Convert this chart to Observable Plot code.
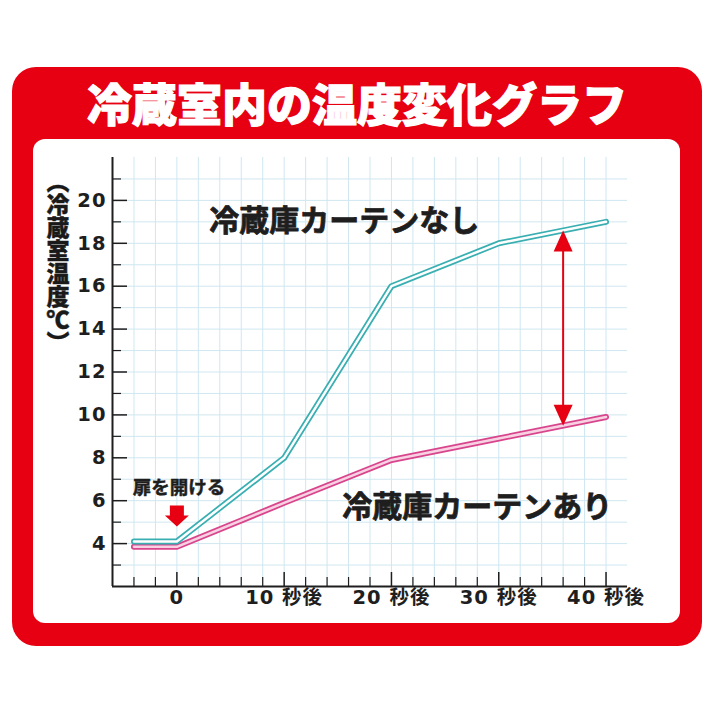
<!DOCTYPE html>
<html>
<head>
<meta charset="utf-8">
<script src="https://cdn.jsdelivr.net/npm/d3@7"></script>
<script src="https://cdn.jsdelivr.net/npm/@observablehq/plot@0.6"></script>
<style>
  body { margin: 0; background: #fff; }
  #wrap { position: relative; width: 713px; height: 713px; overflow: hidden; font-family: "Noto Sans CJK JP", sans-serif; }
  #frame { position: absolute; left: 12px; top: 67px; width: 690px; height: 579px; background: #e60012; border-radius: 24px; }
  #panel { position: absolute; left: 33px; top: 139px; width: 647px; height: 484px; background: #fff; border-radius: 12px; }
  #title { position: absolute; left: 12px; top: 67px; width: 690px; height: 72px; line-height: 72px; text-align: center; color: #fff; font-size: 45px; font-weight: 900; margin: 0; -webkit-text-stroke: 1.2px #fff; }
  #ylabel { position: absolute; left: 46px; top: 170px; writing-mode: vertical-rl; font-size: 23px; font-weight: 900; color: #1a1a1a; line-height: 1; -webkit-text-stroke: 0.4px #1a1a1a; }
</style>
</head>
<body>
<div id="wrap">
  <div id="frame"></div>
  <div id="panel"></div>
  <h1 id="title">冷蔵室内の温度変化グラフ</h1>
  <div id="ylabel">（冷蔵室温度℃）</div>
</div>
<script>
// ---- data ----
const timesNoCurtain = [-4, 0, 10, 20, 30, 40];
const tempsNoCurtain = [4.1, 4.1, 8.0, 16.0, 18.0, 19.0];
const timesCurtain = [-4, 0, 10, 20, 30, 40];
const tempsCurtain = [3.85, 3.85, 5.9, 7.9, 8.9, 9.9];

const seriesNames = ["冷蔵庫カーテンなし", "冷蔵庫カーテンあり"];
const seriesLabelX = [15.6, 28.0];
const seriesLabelY = [19.0, 5.7];

const xTickValues = [0, 10, 20, 30, 40];
const xTickLabels = ["0", "10 秒後", "20 秒後", "30 秒後", "40 秒後"];
const xMinorTicks = [-4, -2, 2, 4, 6, 8, 12, 14, 16, 18, 22, 24, 26, 28, 32, 34, 36, 38];
const yTickValues = [4, 6, 8, 10, 12, 14, 16, 18, 20];
const yMinorTicks = [3, 5, 7, 9, 11, 13, 15, 17, 19, 21];
const gridX = [-4, -2, 0, 2, 4, 6, 8, 10, 12, 14, 16, 18, 20, 22, 24, 26, 28, 30, 32, 34, 36, 38, 40];
const gridY = [3, 4, 5, 6, 7, 8, 9, 10, 11, 12, 13, 14, 15, 16, 17, 18, 19, 20, 21];

const gapArrow = [{time: 36, top: 18.6, bottom: 9.5}];
const doorOpen = [{time: 0, tip: 4.8, labelY: 6.6, text: "扉を開ける"}];

// ---- build tables ----
const noCurtain = timesNoCurtain.map((t, i) => ({time: t, temp: tempsNoCurtain[i]}));
const curtain = timesCurtain.map((t, i) => ({time: t, temp: tempsCurtain[i]}));
const labels = seriesNames.map((n, i) => ({name: n, x: seriesLabelX[i], y: seriesLabelY[i]}));

const RED = "#e60012", TEAL = "#3aafb2", PINK = "#d8458c", PINK_IN = "#f8d2e3", GRID = "#cfe7f0", INK = "#1e1e1e";
const W = 713, H = 713, mL = 112, mR = 86, mT = 157, mB = 127;
const pw = W - mL - mR, ph = H - mT - mB;

const headUp = {draw(c) { c.moveTo(0, 0); c.lineTo(9.5, 21); c.lineTo(-9.5, 21); c.closePath(); }};
const headDown = {draw(c) { c.moveTo(0, 0); c.lineTo(9.5, -21); c.lineTo(-9.5, -21); c.closePath(); }};
const blockArrow = {draw(c) {
  c.moveTo(0, 0); c.lineTo(12, -11); c.lineTo(7, -11); c.lineTo(7, -21);
  c.lineTo(-7, -21); c.lineTo(-7, -11); c.lineTo(-12, -11); c.closePath();
}};

const numFont = "DejaVu Sans, Noto Sans CJK JP, sans-serif";
const jpFont = "Noto Sans CJK JP, sans-serif";

const chart = Plot.plot({
  width: W, height: H,
  marginLeft: mL, marginRight: mR, marginTop: mT, marginBottom: mB,
  x: {domain: [-6, 42]},
  y: {domain: [2, 22]},
  style: {position: "absolute", left: "0px", top: "0px", background: "none", color: INK, overflow: "visible"},
  marks: [
    // grid
    Plot.ruleX(gridX, {stroke: GRID, strokeWidth: 1}),
    Plot.ruleY(gridY, {stroke: GRID, strokeWidth: 1}),
    // axis lines
    Plot.ruleX([-6], {stroke: INK, strokeWidth: 2}),
    Plot.ruleY([2], {stroke: INK, strokeWidth: 2}),
    // ticks (inside)
    Plot.ruleY(yTickValues, {stroke: INK, strokeWidth: 1.5, insetRight: pw - 15}),
    Plot.ruleY(yMinorTicks, {stroke: INK, strokeWidth: 1.2, insetRight: pw - 9}),
    Plot.ruleX(xTickValues, {stroke: INK, strokeWidth: 1.5, insetTop: ph - 14}),
    Plot.ruleX(xMinorTicks, {stroke: INK, strokeWidth: 1.2, insetTop: ph - 9}),
    // axis labels
    Plot.axisY({ticks: yTickValues, tickSize: 0, tickPadding: 6, fontSize: 19.5, fontWeight: 700, fontFamily: numFont, label: null}),
    Plot.axisX({ticks: xTickValues, tickSize: 0, tickPadding: 4, fontSize: 19.5, fontWeight: 700, fontFamily: numFont, label: null,
      tickFormat: d => xTickLabels[xTickValues.indexOf(d)]}),
    // series lines (double stroke)
    Plot.line(curtain, {x: "time", y: "temp", stroke: PINK, strokeWidth: 6}),
    Plot.line(curtain, {x: "time", y: "temp", stroke: PINK_IN, strokeWidth: 2.5}),
    Plot.line(noCurtain, {x: "time", y: "temp", stroke: TEAL, strokeWidth: 6}),
    Plot.line(noCurtain, {x: "time", y: "temp", stroke: "#ffffff", strokeWidth: 2.5}),
    // gap arrow
    Plot.ruleX(gapArrow, {x: "time", y1: "top", y2: "bottom", stroke: RED, strokeWidth: 2, insetTop: 12, insetBottom: 12}),
    Plot.dot(gapArrow, {x: "time", y: "top", symbol: headUp, fill: RED, stroke: null, r: 5}),
    Plot.dot(gapArrow, {x: "time", y: "bottom", symbol: headDown, fill: RED, stroke: null, r: 5}),
    // door open marker
    Plot.dot(doorOpen, {x: "time", y: "tip", symbol: blockArrow, fill: RED, stroke: null, r: 5}),
    Plot.text(doorOpen, {x: "time", y: "labelY", text: "text", fontSize: 18.5, fontWeight: 700, fontFamily: jpFont, fill: INK, stroke: INK, strokeWidth: 0.5, dx: 2}),
    // series labels
    Plot.text(labels, {x: "x", y: "y", text: "name", fontSize: 30, fontWeight: 700, fontFamily: jpFont, fill: INK, stroke: INK, strokeWidth: 0.8})
  ]
});
chart.querySelectorAll('[aria-label="y-axis tick label"] text, [aria-label="x-axis tick label"] text').forEach(t => t.style.letterSpacing = "1px");
document.getElementById("wrap").insertBefore(chart, document.getElementById("ylabel"));
</script>
</body>
</html>
